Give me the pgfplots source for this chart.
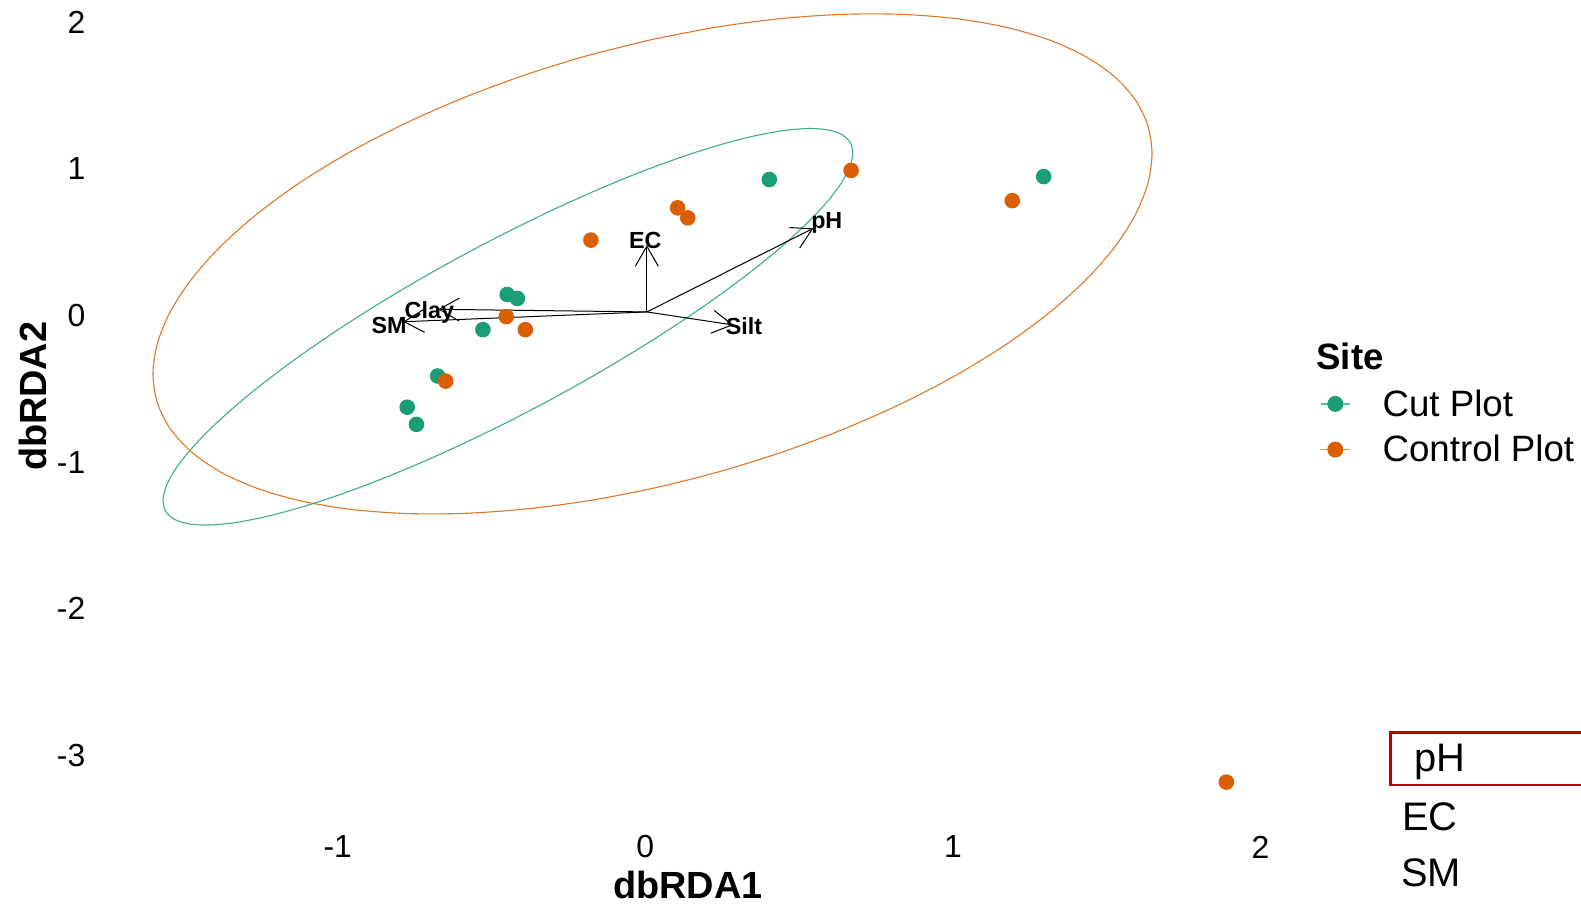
\documentclass[border=0pt]{standalone}
\usepackage{pgfplots}
\pgfplotsset{compat=1.18}
\usepackage{fontspec}
\setmainfont{Liberation Sans}
\usetikzlibrary{arrows.meta}
\definecolor{cutg}{HTML}{1B9E77}
\definecolor{ctrlo}{HTML}{D95F02}
\definecolor{boxred}{HTML}{C00000}

\pgfplotstableread{
x y
0.403 0.928
1.295 0.948
-0.449 0.144
-0.416 0.117
-0.528 -0.096
-0.675 -0.412
-0.774 -0.625
-0.744 -0.742
}\cutdata
\pgfplotstableread{
x y
0.669 0.990
1.193 0.784
0.105 0.735
0.138 0.667
-0.177 0.515
-0.452 -0.007
-0.390 -0.096
-0.649 -0.447
1.889 -3.182
}\ctrldata
\pgfplotstableread{
x y lab
0.590 0.630 pH
0.000 0.515 EC
0.321 -0.069 Silt
-0.702 0.022 Clay
-0.833 -0.069 SM
}\labdata

\begin{document}
\begin{tikzpicture}
\useasboundingbox (0,0) rectangle (790.5bp,452bp);
\begin{axis}[
  anchor=origin, at={(322.65bp,294.2bp)},
  x=153.8bp, y=73.3bp,
  xmin=-1.80, xmax=2.07, ymin=-3.50, ymax=2.15,
  clip=false,
  axis line style={draw=none}, tick style={draw=none},
  xtick={-1,0,1,2}, ytick={-3,-2,-1,0,1,2},
  /pgf/number format/assume math mode=true,
  tick label style={font=\fontsize{16}{19}\selectfont},
  xticklabel style={anchor=center, yshift=-9.15bp},
  yticklabel style={anchor=east, inner sep=0pt, xshift=-2.95bp},
  xlabel={dbRDA1}, ylabel={dbRDA2},
  label style={font=\fontsize{19}{22}\selectfont\bfseries, inner sep=0pt},
  xlabel style={at={(axis description cs:0.501,-0.0684)}, anchor=center},
  ylabel style={at={(axis description cs:-0.0491,0.522)}, anchor=center},
  legend cell align=left,
  legend style={draw=none, fill=none, inner sep=0pt, outer sep=0pt,
    at={(axis description cs:1.0319,0.5307)}, anchor=north west,
    font=\fontsize{18.4}{22}\selectfont,
    nodes={inner sep=0pt, text height=13.5bp, text depth=3.5bp},
    row sep=5.85bp, column sep=16bp},
]
\addplot[only marks, mark=*, mark size=3.9bp, color=cutg, draw opacity=0,
  legend image code/.code={\draw[draw opacity=1, cutg!70, line width=0.8bp] (0bp,1.1bp) -- (14.5bp,1.1bp); \fill[fill opacity=1, cutg] (7.25bp,1.1bp) circle (4bp);}]
  table[x=x,y=y] {\cutdata};
\addlegendentry{Cut Plot}
\addplot[only marks, mark=*, mark size=3.9bp, color=ctrlo, draw opacity=0,
  legend image code/.code={\draw[draw opacity=1, ctrlo!70, line width=0.8bp] (0bp,1.1bp) -- (14.5bp,1.1bp); \fill[fill opacity=1, ctrlo] (7.25bp,1.1bp) circle (4bp);}]
  table[x=x,y=y] {\ctrldata};
\addlegendentry{Control Plot}

% ellipses (stat_ellipse outlines)
\addplot[forget plot, smooth, color=cutg!85, line width=0.55bp] coordinates {
(-0.4467,0.5723) (-0.5931,0.4118) (-0.7369,0.2430) (-0.8758,0.0687) (-1.0074,-0.1081)
(-1.1293,-0.2843) (-1.2396,-0.4570) (-1.3363,-0.6231) (-1.4177,-0.7799) (-1.4826,-0.9248)
(-1.5298,-1.0549) (-1.5584,-1.1684) (-1.5680,-1.2633) (-1.5584,-1.3378) (-1.5298,-1.3907)
(-1.4826,-1.4212) (-1.4177,-1.4287) (-1.3363,-1.4129) (-1.2396,-1.3744) (-1.1293,-1.3135)
(-1.0074,-1.2317) (-0.8758,-1.1299) (-0.7369,-1.0102) (-0.5931,-0.8744) (-0.4467,-0.7251)
(-0.3003,-0.5646) (-0.1565,-0.3958) (-0.0176,-0.2215) (0.1140,-0.0447) (0.2359,0.1315)
(0.3462,0.3042) (0.4429,0.4703) (0.5243,0.6271) (0.5892,0.7720) (0.6364,0.9021)
(0.6650,1.0156) (0.6746,1.1105) (0.6650,1.1850) (0.6364,1.2379) (0.5892,1.2684)
(0.5243,1.2759) (0.4429,1.2601) (0.3462,1.2216) (0.2359,1.1607) (0.1140,1.0789)
(-0.0176,0.9771) (-0.1565,0.8574) (-0.3003,0.7216) (-0.4467,0.5723)};
\addplot[forget plot, smooth, color=ctrlo!85, line width=0.55bp] coordinates {
(0.0234,1.8841) (-0.1886,1.7729) (-0.3969,1.6374) (-0.5980,1.4798) (-0.7886,1.3030)
(-0.9652,1.1100) (-1.1249,0.9041) (-1.2649,0.6886) (-1.3829,0.4674) (-1.4769,0.2442)
(-1.5451,0.0229) (-1.5866,-0.1927) (-1.6005,-0.3990) (-1.5866,-0.5925) (-1.5451,-0.7697)
(-1.4769,-0.9278) (-1.3829,-1.0640) (-1.2649,-1.1760) (-1.1249,-1.2617) (-0.9652,-1.3198)
(-0.7886,-1.3494) (-0.5980,-1.3498) (-0.3969,-1.3210) (-0.1886,-1.2637) (0.0234,-1.1787)
(0.2354,-1.0675) (0.4437,-0.9320) (0.6448,-0.7744) (0.8354,-0.5976) (1.0120,-0.4046)
(1.1717,-0.1987) (1.3117,0.0168) (1.4297,0.2380) (1.5237,0.4612) (1.5919,0.6825)
(1.6334,0.8981) (1.6473,1.1044) (1.6334,1.2979) (1.5919,1.4751) (1.5237,1.6332)
(1.4297,1.7694) (1.3117,1.8814) (1.1717,1.9671) (1.0120,2.0252) (0.8354,2.0548)
(0.6448,2.0552) (0.4437,2.0264) (0.2354,1.9691) (0.0234,1.8841)};

% biplot arrows
\pgfplotsset{biarrow/.style={forget plot, black, line width=0.5bp, -{Straight Barb[length=10bp,width=11.5bp]}}}
\addplot[biarrow] coordinates {(0.005,0.025) (0.546,0.595)};
\addplot[biarrow] coordinates {(0.005,0.025) (0.005,0.48)};
\addplot[biarrow] coordinates {(0.005,0.025) (0.286,-0.064)};
\addplot[biarrow] coordinates {(0.005,0.025) (-0.673,0.043)};
\addplot[biarrow] coordinates {(0.005,0.025) (-0.787,-0.042)};
\addplot[forget plot, draw=none, mark=none, nodes near coords, point meta=explicit symbolic,
  nodes near coords style={anchor=center, inner sep=0pt, font=\fontsize{11.7}{14}\selectfont\bfseries, text=black}]
  table[x=x, y=y, meta=lab] {\labdata};
\end{axis}
\node[anchor=base west, inner sep=0pt, font=\fontsize{18.4}{22}\selectfont\bfseries] at (658bp,267.4bp) {Site};
\draw[boxred, line width=1.4bp] (695.35bp,59.5bp) rectangle (800bp,85.85bp);
\node[anchor=base west, inner sep=0pt, font=\fontsize{20}{24}\selectfont] at (707bp,66.15bp) {pH};
\node[anchor=base west, inner sep=0pt, font=\fontsize{20}{24}\selectfont] at (701bp,37bp) {EC};
\node[anchor=base west, inner sep=0pt, font=\fontsize{20}{24}\selectfont] at (700.5bp,8.65bp) {SM};
\end{tikzpicture}
\end{document}
